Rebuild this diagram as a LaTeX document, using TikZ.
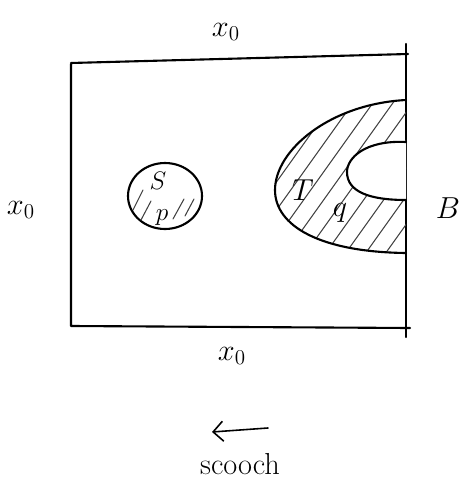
\documentclass[tikz,border=0pt]{standalone}
\usepackage{tikz}
\usetikzlibrary{arrows.meta}

\begin{document}
\begin{tikzpicture}[x=0.02cm,y=-0.02cm,
  pen/.style={line width=1.2pt, line cap=round, line join=round},
  hatch/.style={line width=0.6pt, line cap=round, black!75},
  lbl/.style={font=\LARGE, inner sep=0pt}]
\useasboundingbox (0,0) rectangle (465,486);
% the box
\draw[pen] (71,64) -- (71,326) -- (410,328);
\draw[pen] (71,63) -- (408,54);
\draw[pen] (406,44) -- (406,337);
% small blob S
\draw[pen] (165,196) ellipse (37 and 33);
\draw[hatch] (133,210) -- (143,190);
\draw[hatch] (141,220) -- (151,201);
\draw[hatch] (173,219) -- (184,199);
\draw[hatch] (185,216) -- (194,199);
% region T with its hole
\begin{scope}
\clip (406,100) .. controls (330,104) and (275,150) .. (275,190)
  .. controls (275,226) and (320,252) .. (406,253) -- cycle;
\foreach \i in {170,190,...,470}
  \draw[hatch] (\i,275) -- ++(125,-175);
\end{scope}
\fill[white] (406,142) .. controls (365,140) and (347,158) .. (347,172)
  .. controls (347,192) and (370,200) .. (406,200) -- cycle;
\draw[pen] (406,100) .. controls (330,104) and (275,150) .. (275,190)
  .. controls (275,226) and (320,252) .. (406,253);
\draw[pen] (406,142) .. controls (365,140) and (347,158) .. (347,172)
  .. controls (347,192) and (370,200) .. (406,200);
% labels
\node[lbl] (xtop) at (226,32) {$x_0$};
\node[lbl] (xleft) at (21,210) {$x_0$};
\node[lbl] (xbot) at (232,356) {$x_0$};
\node[lbl, font=\Large] (s) at (158,181) {$S$};
\node[lbl, font=\Large] (p) at (162,218) {$p$};
\node[lbl] (t) at (303,190) {$T$};
\node[lbl] (q) at (340,213) {$q$};
\node[lbl] (b) at (448,208) {$B$};
% scooch
\coordinate (from) at (268,428);
\coordinate (to) at (212,432);
\draw[pen, line width=0.9pt, -{Straight Barb[length=2mm]}] (from) -- (to);
\node[font=\LARGE] (scooch) at (240,464) {scooch};
\end{tikzpicture}
\end{document}
